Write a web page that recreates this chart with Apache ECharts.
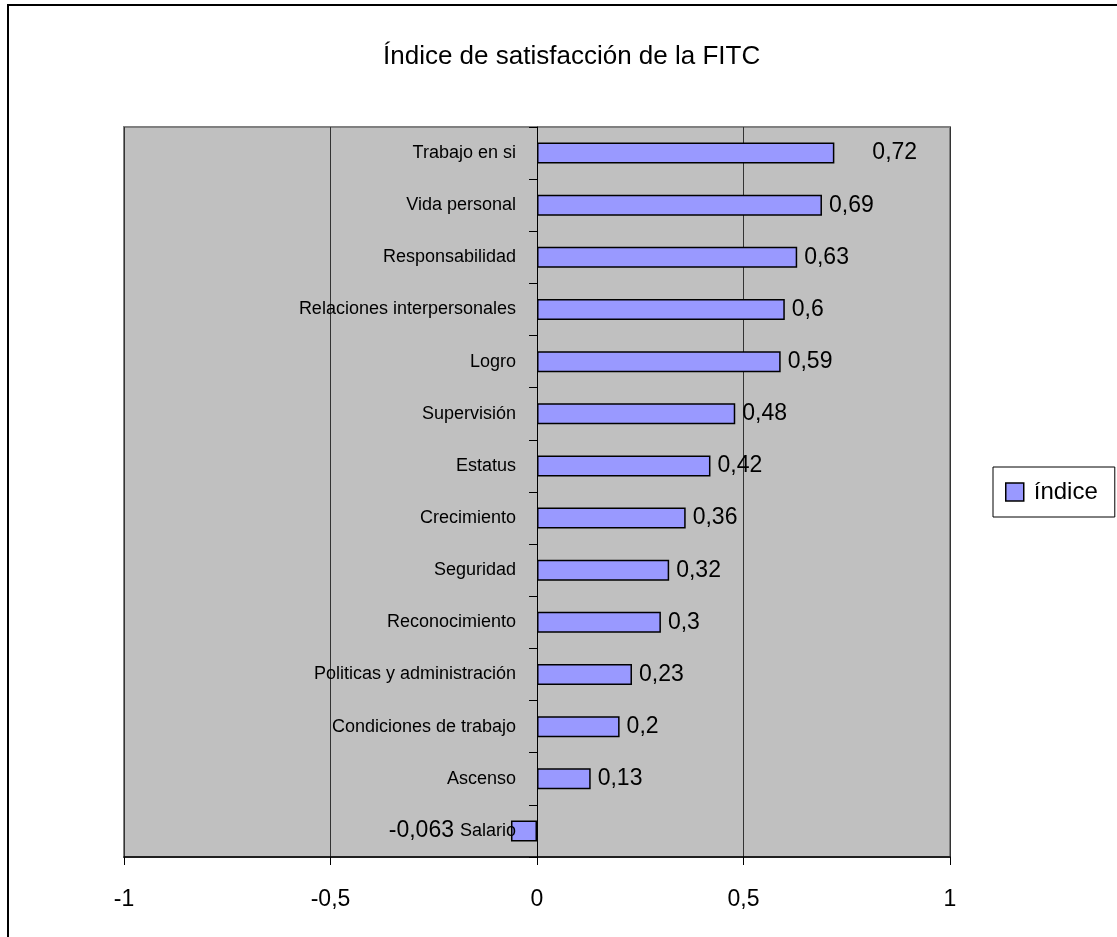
<!DOCTYPE html>
<html>
<head>
<meta charset="utf-8">
<title>Índice de satisfacción de la FITC</title>
<script src="https://cdn.jsdelivr.net/npm/echarts@6/dist/echarts.min.js"></script>
<style>
  html, body { margin: 0; padding: 0; background: #fff; }
  #chart { width: 1117px; height: 937px; }
</style>
</head>
<body>
<div id="chart"></div>
<script>
// Factors of satisfaction, top to bottom
const categories = [
  'Trabajo en si', 'Vida personal', 'Responsabilidad', 'Relaciones interpersonales',
  'Logro', 'Supervisión', 'Estatus', 'Crecimiento', 'Seguridad', 'Reconocimiento',
  'Politicas y administración', 'Condiciones de trabajo', 'Ascenso', 'Salario'
];
// Satisfaction index per factor
const indice = [0.72, 0.69, 0.63, 0.6, 0.59, 0.48, 0.42, 0.36, 0.32, 0.3, 0.23, 0.2, 0.13, -0.063];
// Value axis ticks
const xTicks = [-1, -0.5, 0, 0.5, 1];

const FONT = "'Liberation Sans', Arial, sans-serif";
const comma = v => String(v).replace('.', ',');
const GRID_LEFT = 124;

// Label placement tweaks for a couple of bars
const labelTweaks = {
  'Trabajo en si': { distance: 38 },
  'Salario': { position: 'left', distance: 57 }
};

const seriesData = indice.map((v, i) => {
  const tweak = labelTweaks[categories[i]];
  return tweak ? { value: v, label: tweak } : { value: v };
});

const chart = echarts.init(document.getElementById('chart'), null, { renderer: 'canvas' });

chart.setOption({
  animation: false,
  backgroundColor: '#ffffff',
  textStyle: { fontFamily: FONT },
  title: {
    text: 'Índice de satisfacción de la FITC',
    left: 378,
    top: 39,
    textStyle: { fontFamily: FONT, fontSize: 26, fontWeight: 'normal', color: '#000' }
  },
  graphic: [{
    type: 'rect',
    z: -10,
    shape: { x: 8, y: 5, width: 1300, height: 1100 },
    style: { fill: 'none', stroke: '#000', lineWidth: 2 }
  }],
  legend: {
    left: 993,
    top: 467,
    orient: 'vertical',
    padding: [13, 17, 13, 12],
    borderColor: '#000',
    borderWidth: 1,
    backgroundColor: '#fff',
    icon: 'rect',
    itemWidth: 18,
    itemHeight: 18,
    itemStyle: { color: '#9999FF', borderColor: '#000', borderWidth: 1.5 },
    textStyle: { fontFamily: FONT, fontSize: 24, color: '#000', padding: [0, 0, 0, 5] },
    data: ['índice']
  },
  grid: {
    left: GRID_LEFT,
    top: 127,
    right: 167,
    bottom: 80,
    containLabel: false,
    outerBoundsMode: 'none',
    show: true,
    backgroundColor: '#C0C0C0',
    borderColor: '#808080',
    borderWidth: 2
  },
  xAxis: {
    type: 'value',
    min: xTicks[0],
    max: xTicks[xTicks.length - 1],
    interval: 0.5,
    axisLine: { show: true, lineStyle: { color: '#000', width: 1.5 } },
    axisTick: { show: true, length: 8, lineStyle: { color: '#000' } },
    splitLine: { show: true, lineStyle: { color: '#333', width: 1 } },
    axisLabel: {
      margin: 31,
      fontFamily: FONT,
      fontSize: 23,
      color: '#000',
      formatter: v => comma(v)
    }
  },
  yAxis: {
    type: 'category',
    data: categories,
    inverse: true,
    z: 3,
    axisLine: { show: true, onZero: false, lineStyle: { color: '#000', width: 1 } },
    axisTick: { show: true, length: 8, lineStyle: { color: '#000' } },
    splitLine: { show: false },
    axisLabel: {
      margin: 21,
      fontFamily: FONT,
      fontSize: 18,
      color: '#000'
    }
  },
  series: [{
    name: 'índice',
    type: 'bar',
    barWidth: 21,
    data: seriesData,
    itemStyle: { color: '#9999FF', borderColor: '#000', borderWidth: 1.5 },
    label: {
      show: true,
      position: 'right',
      distance: 7,
      fontFamily: FONT,
      fontSize: 23,
      color: '#000',
      formatter: p => comma(p.value)
    }
  }]
});

// Place the category axis (line, ticks and labels) on the zero line of the value axis
const zeroX = chart.convertToPixel({ xAxisIndex: 0 }, 0);
chart.setOption({ yAxis: { offset: GRID_LEFT - zeroX } });
</script>
</body>
</html>
